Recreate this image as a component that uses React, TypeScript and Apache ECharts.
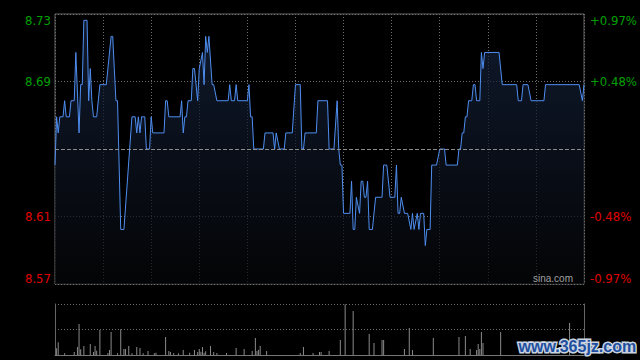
import React, { useEffect, useRef } from 'react';
import * as echarts from 'echarts';

// previous close and axis tick labels
const preClose = 8.65;
const priceTickLabels = ['8.57', '8.61', '', '8.69', '8.73'];
const pctTickLabels = ['-0.97%', '-0.48%', '', '+0.48%', '+0.97%'];

// intraday price line: sample index (0..330) and price at each turning point
const priceIdx = [
  0, 1, 2, 3, 5, 6, 7, 9, 10, 12, 13, 15, 16, 17, 18, 20, 21, 22, 23, 24, 26, 28, 32, 35, 36, 37, 38, 39, 41, 43,
  48, 50, 51, 52, 53, 54, 56, 57, 59, 60, 61, 68, 69, 70, 71, 78, 79, 80, 81, 82, 83,
  85, 86, 87, 89, 90, 92, 93, 94, 95, 96, 98, 99, 101, 108, 109, 110, 112, 113, 114, 120, 121, 122, 123, 124,
  130, 131, 136, 137, 138, 140, 143, 144, 148, 150, 153, 154, 155, 156, 163, 164,
  170, 171, 174, 176, 177, 178, 179, 180, 184, 185, 186, 187, 188, 190, 191, 192, 193, 194, 195, 196, 198,
  200, 204, 205, 207, 209, 212, 213, 214, 215, 216, 218, 220, 222, 223, 224, 226, 227, 228, 230, 231, 232,
  234, 235, 238, 240, 243, 244,
  251, 252, 253, 254, 255, 256, 257, 258, 260, 261, 262, 263, 265, 266, 267, 268, 277, 279, 288, 289, 291,
  292, 295, 297, 305, 306, 327, 329, 330,
];
const prices = [
  8.64, 8.67, 8.66, 8.67, 8.67, 8.68, 8.67, 8.67, 8.68, 8.68, 8.71, 8.66, 8.69, 8.69, 8.73, 8.73, 8.68, 8.70, 8.68, 8.67, 8.67, 8.69, 8.69, 8.72, 8.72, 8.70, 8.68, 8.68, 8.60, 8.60,
  8.67, 8.67, 8.66, 8.67, 8.66, 8.67, 8.67, 8.65, 8.65, 8.67, 8.66, 8.66, 8.68, 8.68, 8.67, 8.67, 8.68, 8.66, 8.67, 8.67, 8.68,
  8.68, 8.70, 8.70, 8.68, 8.70, 8.71, 8.69, 8.72, 8.71, 8.72, 8.69, 8.69, 8.68, 8.68, 8.69, 8.68, 8.68, 8.69, 8.68, 8.68, 8.69, 8.67, 8.67, 8.65,
  8.65, 8.66, 8.66, 8.65, 8.66, 8.65, 8.65, 8.66, 8.66, 8.69, 8.69, 8.65, 8.65, 8.66, 8.66, 8.68,
  8.68, 8.65, 8.65, 8.68, 8.65, 8.64, 8.64, 8.61, 8.61, 8.63, 8.60, 8.60, 8.62, 8.61, 8.63, 8.63, 8.62, 8.62, 8.63, 8.60, 8.60,
  8.62, 8.62, 8.64, 8.64, 8.62, 8.62, 8.64, 8.61, 8.61, 8.62, 8.61, 8.61, 8.60, 8.61, 8.60, 8.61, 8.60, 8.61, 8.61, 8.59, 8.60,
  8.60, 8.64, 8.64, 8.65, 8.65, 8.64,
  8.64, 8.65, 8.65, 8.66, 8.66, 8.67, 8.67, 8.68, 8.68, 8.69, 8.69, 8.68, 8.68, 8.71, 8.70, 8.71, 8.71, 8.69, 8.69, 8.68, 8.68,
  8.69, 8.69, 8.68, 8.68, 8.69, 8.69, 8.68, 8.69,
];

// volume bars: sample index and volume
const volIdx = [
  1, 2, 6, 12, 14, 15, 16, 18, 22, 24, 25, 26, 28, 33, 34, 35, 39, 41, 43, 44, 46, 48, 51, 53, 55, 58, 62, 63,
  69, 71, 72, 74, 77, 80, 84, 87, 89, 90, 91, 92, 93, 94, 97, 99, 101, 107, 113, 118, 123, 125, 126, 127, 128,
  132, 153, 155, 161, 165, 166, 171, 178, 181, 186, 196, 199, 204, 205, 218, 221, 223, 236, 252, 256, 259,
  263, 264, 265, 266, 267, 278, 321,
];
const volumes = [
  67, 127, 17, 30, 80, 310, 57, 90, 110, 30, 90, 43, 250, 20, 50, 230, 17, 257, 60, 60, 90, 17, 80, 70, 17, 40, 17, 23,
  180, 40, 30, 17, 17, 50, 23, 50, 30, 60, 33, 80, 23, 37, 90, 30, 20, 20, 70, 60, 40, 170, 40, 53, 90,
  40, 20, 80, 20, 30, 30, 40, 150, 508, 440, 210, 120, 150, 150, 60, 270, 50, 170, 180, 190, 60,
  50, 110, 60, 230, 120, 230, 320,
];
const volMax = 510;

const FONT = "'Liberation Sans Narrow', 'Arial Narrow', 'DejaVu Sans Condensed', 'Liberation Sans', sans-serif";
const GREEN = '#00a000';
const RED = '#e00000';

function toBp(p: number) {
  return (p / preClose - 1) * 10000;
}

function labelRich() {
  const base = { fontSize: 13, fontFamily: FONT };
  return {
    upTop: { ...base, color: GREEN, padding: [12, 0, 0, 0] },
    up: { ...base, color: GREEN },
    dn: { ...base, color: RED },
    dnBot: { ...base, color: RED, padding: [0, 0, 12, 0] },
  };
}

function makeFormatter(labels: string[]) {
  return (v: number) => {
    const k = Math.round(v / 48.5) + 2;
    const t = labels[k];
    if (!t) return '';
    const s = k === 4 ? 'upTop' : k === 3 ? 'up' : k === 1 ? 'dn' : 'dnBot';
    return `{${s}|${t}}`;
  };
}

export default function App() {
  const ref = useRef<HTMLDivElement>(null);
  useEffect(() => {
    if (!ref.current) return;
    const chart = echarts.init(ref.current, undefined, { renderer: 'svg' });
    const lineData = priceIdx.map((t, i) => [t, toBp(prices[i])]);
    const volData = volIdx.map((t, i) => [t, volumes[i]]);
    const dotted = { color: '#6e6e6e', type: [1, 2] as any, width: 1 };
    chart.setOption({
      animation: false,
      backgroundColor: '#000',
      grid: [
        { left: 55, top: 14, width: 529, height: 270, show: true, borderColor: '#666', borderWidth: 1, backgroundColor: 'transparent' },
        { left: 55, top: 304, width: 529, height: 51 },
      ],
      xAxis: [
        {
          type: 'value', gridIndex: 0, min: 0, max: 330, interval: 30,
          axisLabel: { show: false }, axisTick: { show: false }, axisLine: { show: false },
          splitLine: { show: true, lineStyle: dotted },
        },
        {
          type: 'value', gridIndex: 1, min: 0, max: 330, interval: 30,
          axisLabel: { show: false }, axisTick: { show: false },
          axisLine: { show: true, onZero: false, lineStyle: { color: '#777', width: 1 } },
          splitLine: { show: false },
        },
      ],
      yAxis: [
        {
          type: 'value', gridIndex: 0, position: 'left', min: -97, max: 97, interval: 48.5,
          axisLine: { show: false }, axisTick: { show: false },
          splitLine: { show: true, lineStyle: dotted },
          axisLabel: { margin: 4, formatter: makeFormatter(priceTickLabels), rich: labelRich() },
        },
        {
          type: 'value', gridIndex: 0, position: 'right', min: -97, max: 97, interval: 48.5,
          axisLine: { show: false }, axisTick: { show: false }, splitLine: { show: false },
          axisLabel: { margin: 6, formatter: makeFormatter(pctTickLabels), rich: labelRich() },
        },
        {
          type: 'value', gridIndex: 1, position: 'left', min: 0, max: volMax, interval: volMax / 2,
          axisLine: { show: true, lineStyle: { color: '#666', width: 1 } }, axisTick: { show: false },
          axisLabel: { show: false },
          splitLine: { show: true, lineStyle: dotted },
        },
        {
          type: 'value', gridIndex: 1, position: 'right', min: 0, max: volMax, interval: volMax / 2,
          axisLine: { show: true, lineStyle: { color: '#666', width: 1 } }, axisTick: { show: false },
          axisLabel: { show: false }, splitLine: { show: false },
        },
      ],
      series: [
        {
          type: 'line', xAxisIndex: 0, yAxisIndex: 0, data: lineData,
          showSymbol: false, symbol: 'none',
          lineStyle: { color: '#4f8ef0', width: 1 },
          areaStyle: {
            origin: 'start',
            color: new echarts.graphic.LinearGradient(0, 0, 0, 1, [
              { offset: 0, color: '#16243f' },
              { offset: 1, color: '#050608' },
            ]),
          },
          markLine: {
            silent: true, symbol: 'none', label: { show: false },
            lineStyle: { color: '#8c8c8c', type: [4, 2], width: 1 },
            data: [{ yAxis: 0 }],
          },
          z: 3,
        },
        {
          type: 'bar', xAxisIndex: 1, yAxisIndex: 2, data: volData,
          barWidth: 1, itemStyle: { color: '#8a8a8a' },
        },
      ],
      graphic: [
        {
          type: 'text', right: 67, top: 273, z: 10,
          style: { text: 'sina.com', fill: '#a0a0a0', font: "10px 'Liberation Sans', Arial, sans-serif" },
        },
        {
          type: 'text', left: 517, top: 337, z: 20,
          style: {
            text: 'www.365jz.com', fill: '#1e4f9f',
            font: "bold 16px 'Liberation Sans', Arial, sans-serif",
            stroke: 'rgba(215,224,238,0.95)', lineWidth: 3,
          },
        },
      ],
    });
    return () => chart.dispose();
  }, []);
  return (
    <div style={{ position: 'fixed', left: 0, top: 0, width: 640, height: 360, background: '#000' }}>
      <div ref={ref} style={{ width: 640, height: 360 }} />
    </div>
  );
}
